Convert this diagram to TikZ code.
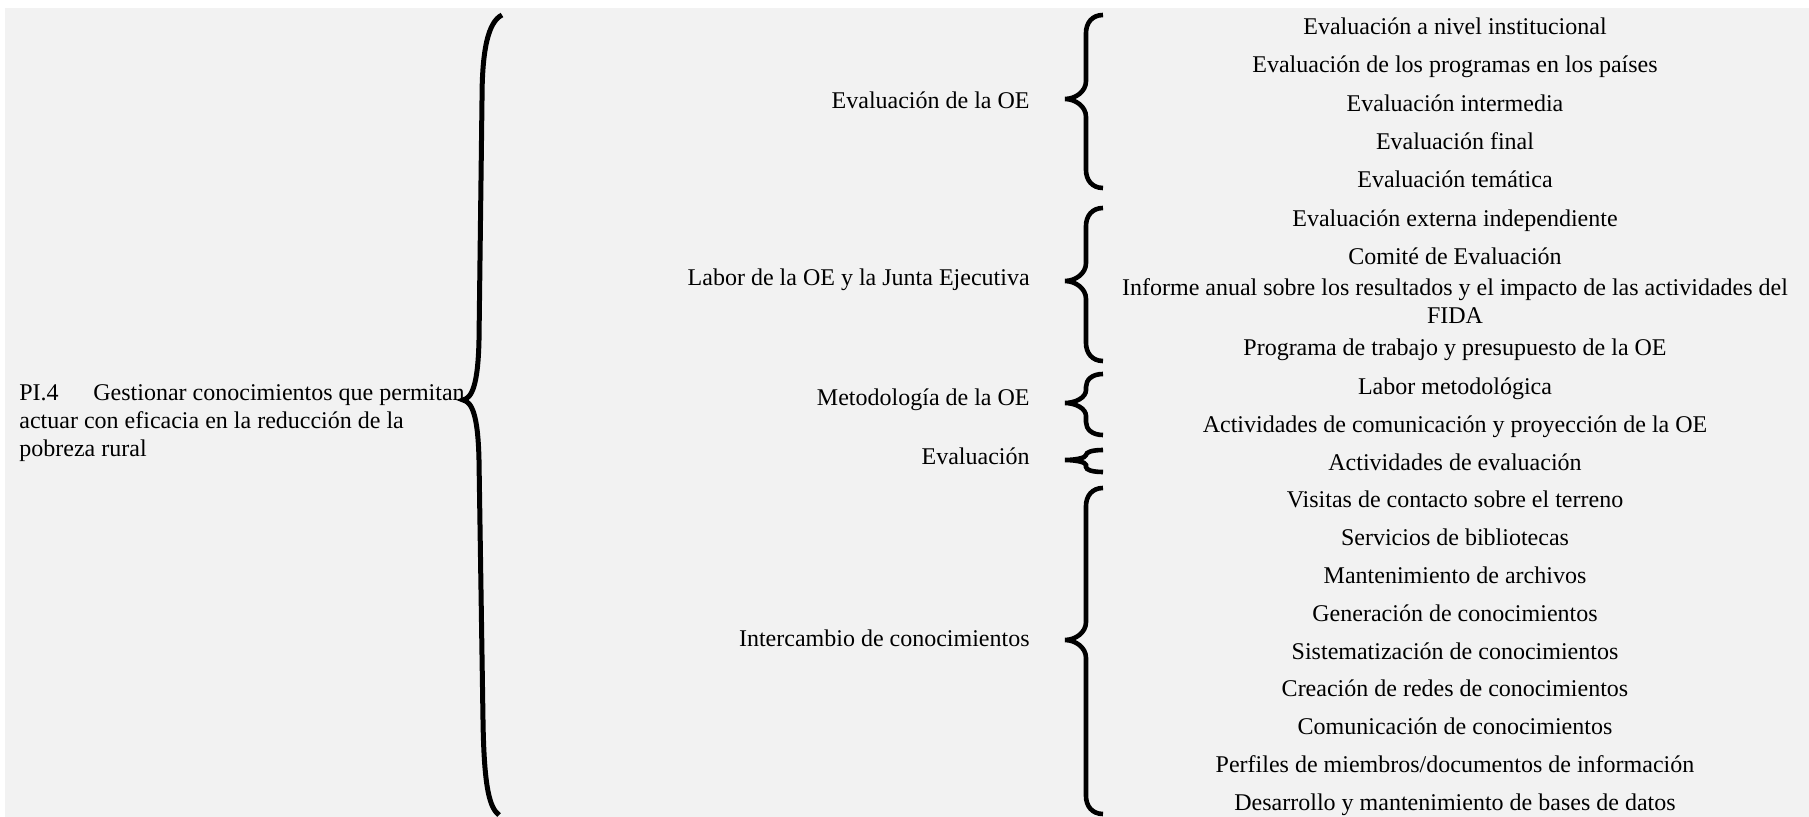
\documentclass[tikz,border=0pt]{standalone}
\usepackage{fontspec}
\setmainfont{Liberation Serif}
\usetikzlibrary{positioning}
\definecolor{cellgray}{HTML}{F2F2F2}

\newcommand{\curly}[4]{% top, tip, bottom, curl
  \draw[brace] (\xend,#1) .. controls (\xstem+6,#1) and (\xstem,#1+#4*0.45) .. (\xstem,#1+#4)
    -- (\xstem,#2-#4) .. controls (\xstem,#2-#4*0.4) and (\xtip+10,#2) .. (\xtip,#2)
    .. controls (\xtip+10,#2) and (\xstem,#2+#4*0.4) .. (\xstem,#2+#4)
    -- (\xstem,#3-#4) .. controls (\xstem,#3-#4*0.45) and (\xstem+6,#3) .. (\xend,#3);
}

\begin{document}
\begin{tikzpicture}[x=0.5pt,y=-0.5pt,
  every node/.style={inner sep=0pt, font=\fontsize{12}{14}\selectfont},
  item/.style={anchor=base},
  group/.style={anchor=base east},
  brace/.style={line width=2.3pt}]
\useasboundingbox (0,0) rectangle (1809,817);
\fill[cellgray] (5,8) rectangle (1809,817);

\def\xl{19}
\def\xg{1030}
\def\xi{1455}
\def\xend{1103}
\def\xstem{1086}
\def\xtip{1065}

% left column (base = last line)
\node(goal) [anchor=base west, align=left] at (\xl, 457)
  {\makebox[37pt][l]{PI.4}Gestionar conocimientos que permitan\\
   actuar con eficacia en la reducción de la\\
   pobreza rural};

% middle column
\node(oe) [group] at (\xg, 109) {Evaluación de la OE};
\node(labor) [group] at (\xg, 286) {Labor de la OE y la Junta Ejecutiva};
\node(meto) [group] at (\xg, 406) {Metodología de la OE};
\node(ev) [group] at (\xg, 465) {Evaluación};
\node(inter) [group] at (\xg, 646) {Intercambio de conocimientos};

% right column
\node(e1) [item] at (\xi, 35) {Evaluación a nivel institucional};
\node(e2) [item] at (\xi, 73) {Evaluación de los programas en los países};
\node(e3) [item] at (\xi, 111.5) {Evaluación intermedia};
\node(e4) [item] at (\xi, 150) {Evaluación final};
\node(e5) [item] at (\xi, 188) {Evaluación temática};

\node(l1) [item] at (\xi, 226.5) {Evaluación externa independiente};
\node(l2) [item] at (\xi, 265) {Comité de Evaluación};
\node(l3) [item, align=center] at (\xi, 324)
  {Informe anual sobre los resultados y el impacto de las actividades del\\FIDA};
\node(l4) [item] at (\xi, 356) {Programa de trabajo y presupuesto de la OE};

\node(m1) [item] at (\xi, 395) {Labor metodológica};
\node(m2) [item] at (\xi, 432.7) {Actividades de comunicación y proyección de la OE};

\node(v1) [item] at (\xi, 470.4) {Actividades de evaluación};

\node(k1) [item] at (\xi, 508) {Visitas de contacto sobre el terreno};
\node(k2) [item] at (\xi, 545.8) {Servicios de bibliotecas};
\node(k3) [item] at (\xi, 583.5) {Mantenimiento de archivos};
\node(k4) [item] at (\xi, 621) {Generación de conocimientos};
\node(k5) [item] at (\xi, 659) {Sistematización de conocimientos};
\node(k6) [item] at (\xi, 696.6) {Creación de redes de conocimientos};
\node(k7) [item] at (\xi, 734) {Comunicación de conocimientos};
\node(k8) [item] at (\xi, 772) {Perfiles de miembros/documentos de información};
\node(k9) [item] at (\xi, 810) {Desarrollo y mantenimiento de bases de datos};

% big brace
\draw[line width=2.5pt] (502,15) .. controls (488,22) and (482,50) .. (482,100)
  -- (479,340) .. controls (478,385) and (472,398) .. (463,400)
  .. controls (472,402) and (478,415) .. (479,460)
  -- (483,720) .. controls (484,790) and (490,808) .. (499,815);

% small braces
\curly{15}{99}{188}{18}
\curly{208}{281}{361}{18}
\curly{374}{403}{435}{13}
\curly{450}{460}{472}{5}
\curly{488}{640}{814}{18}
\end{tikzpicture}
\end{document}
